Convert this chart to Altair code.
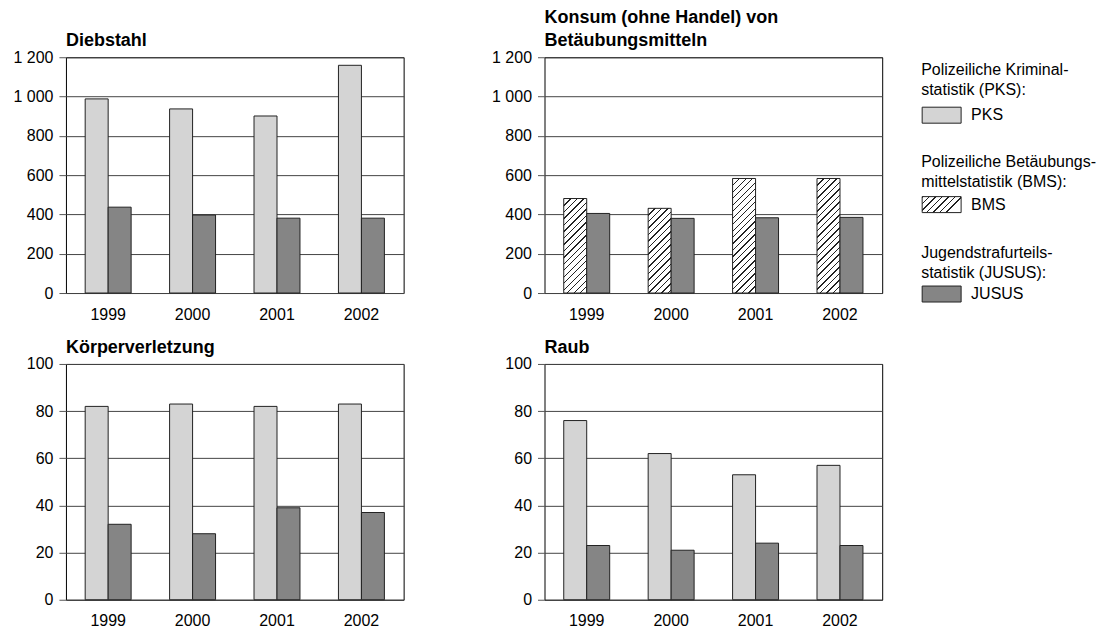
import altair as alt
import pandas as pd

# ---------------- data ----------------
years = ["1999", "2000", "2001", "2002"]

diebstahl_pks = [988, 937, 901, 1159]
diebstahl_jusus = [437, 397, 381, 381]

konsum_bms = [481, 431, 583, 583]
konsum_jusus = [405, 380, 383, 385]

koerper_pks = [82, 83, 82, 83]
koerper_jusus = [32, 28, 39, 37]

raub_pks = [76, 62, 53, 57]
raub_jusus = [23, 21, 24, 23]

series_names = ["PKS", "BMS", "JUSUS"]
legend_headings = [
    "Polizeiliche Kriminal-\nstatistik (PKS):",
    "Polizeiliche Betäubungs-\nmittelstatistik (BMS):",
    "Jugendstrafurteils-\nstatistik (JUSUS):",
]

# ---------------- style ----------------
FONT = "Liberation Sans"
PW, PH = 338, 236
PKS_COL = "#d4d4d4"
JUSUS_COL = "#858585"
EDGE = "#222222"
STEP = PW / len(years)
PAD_IN = 1 - 46 / STEP
BAR_W = STEP * (1 - PAD_IN) / 2


def hatch(w, h, period=6.5, line=1.3, ink="#222222"):
    """diagonal '/' hatch as a linear gradient with sharp stops"""
    k = h / w
    n = w * (1 + k * k) / period
    stops = []
    i = 0
    while i / n < 1:
        a = round(i / n, 5)
        b = round(min((i + line / period) / n, 1), 5)
        c = round(min((i + 1) / n, 1), 5)
        stops += [
            {"offset": a, "color": ink},
            {"offset": b, "color": ink},
            {"offset": b, "color": "white"},
            {"offset": c, "color": "white"},
        ]
        i += 1
    return {"gradient": "linear", "x1": 0, "y1": 0, "x2": 1, "y2": round(k, 5), "stops": stops}


def panel(title, first, first_vals, jusus_vals, ymax, step):
    n = len(years)
    df = pd.DataFrame({
        "Jahr": years + years,
        "Serie": [first] * n + ["JUSUS"] * n,
        "Slot": ["a"] * n + ["b"] * n,
        "Wert": first_vals + jusus_vals,
    })
    base = alt.Chart(df).encode(
        x=alt.X("Jahr:N", title=None,
                scale=alt.Scale(domain=years, paddingInner=PAD_IN, paddingOuter=PAD_IN / 2),
                axis=alt.Axis(labelAngle=0, ticks=False, domain=False, grid=False, labelPadding=13)),
        xOffset=alt.XOffset("Slot:N",
                            scale=alt.Scale(domain=["a", "b"], paddingInner=0, paddingOuter=0)),
        y=alt.Y("Wert:Q", title=None,
                scale=alt.Scale(domain=[0, ymax], nice=False),
                axis=alt.Axis(values=list(range(0, ymax + 1, step)),
                              labelExpr="replace(format(datum.value, ','), ',', ' ')",
                              tickSize=7, labelPadding=6, domain=False, grid=True)),
    )
    layers = []
    if first == "PKS":
        layers.append(base.transform_filter(alt.datum.Serie == first)
                      .mark_bar(fill=PKS_COL, stroke=EDGE, strokeWidth=1))
    else:
        for yr, v in zip(years, first_vals):
            h = v / ymax * PH
            layers.append(base.transform_filter((alt.datum.Serie == first) & (alt.datum.Jahr == yr))
                          .mark_bar(fill=hatch(BAR_W, h), stroke=EDGE, strokeWidth=1))
    layers.append(base.transform_filter(alt.datum.Serie == "JUSUS")
                  .mark_bar(fill=JUSUS_COL, stroke=EDGE, strokeWidth=1))
    return alt.layer(*layers).properties(width=PW, height=PH, title=alt.TitleParams(title))


p1 = panel("Diebstahl", "PKS", diebstahl_pks, diebstahl_jusus, 1200, 200)
p2 = panel(["Konsum (ohne Handel) von", "Betäubungsmitteln"], "BMS", konsum_bms, konsum_jusus, 1200, 200)
p3 = panel("Körperverletzung", "PKS", koerper_pks, koerper_jusus, 100, 20)
p4 = panel("Raub", "PKS", raub_pks, raub_jusus, 100, 20)

# ---------------- legend ----------------
leg_df = pd.DataFrame({"Serie": series_names, "Kopf": legend_headings})
y_head = alt.Scale(type="point", domain=series_names, range=[5, 188], padding=0)
y_sw = alt.Scale(type="point", domain=series_names, range=[58, 237], padding=0)
SW_W, SW_H = 39, 16
SW_PATH = f"M-1,-{SW_H / SW_W:.4f}H1V{SW_H / SW_W:.4f}H-1Z"
sw_fill = {"PKS": PKS_COL, "BMS": hatch(SW_W, SW_H), "JUSUS": JUSUS_COL}

leg_base = alt.Chart(leg_df)
leg_layers = [
    leg_base.mark_text(align="left", baseline="top", fontSize=16, font=FONT, lineBreak="\n",
                       lineHeight=20, color="black")
    .encode(x=alt.value(0), y=alt.Y("Serie:N", scale=y_head, axis=None), text="Kopf:N")
]
for s in series_names:
    leg_layers.append(
        leg_base.transform_filter(alt.datum.Serie == s)
        .mark_point(shape=SW_PATH, size=SW_W * SW_W, filled=True, fill=sw_fill[s],
                    stroke=EDGE, strokeWidth=1, opacity=1)
        .encode(x=alt.value(SW_W / 2 + 1), y=alt.Y("Serie:N", scale=y_sw, axis=None))
    )
leg_layers.append(
    leg_base.mark_text(align="left", baseline="middle", fontSize=16, font=FONT, color="black")
    .encode(x=alt.value(50), y=alt.Y("Serie:N", scale=y_sw, axis=None), text="Serie:N")
)
legend = alt.layer(*leg_layers).resolve_scale(y="independent").properties(
    width=170, height=PH, view=alt.ViewBackground(strokeWidth=0))

row1 = alt.hconcat(p1, alt.hconcat(p2, legend, spacing=39, bounds="flush"), spacing=141, bounds="flush")
row2 = alt.hconcat(p3, p4, spacing=141, bounds="flush")

chart = (
    alt.vconcat(row1, row2, spacing=15)
    .properties(padding={"left": 4, "top": 0, "right": 0, "bottom": 5})
    .configure_view(stroke="black", strokeWidth=1)
    .configure_axis(labelFont=FONT, labelFontSize=16, labelColor="black",
                    gridColor="#444444", gridWidth=1, tickColor="#555555", tickWidth=1)
    .configure_title(font=FONT, fontSize=18, fontWeight="bold", color="black",
                     anchor="start", frame="group", offset=-1, lineHeight=23)
)

chart.save("out.html", embed_options={"renderer": "svg", "actions": False})
